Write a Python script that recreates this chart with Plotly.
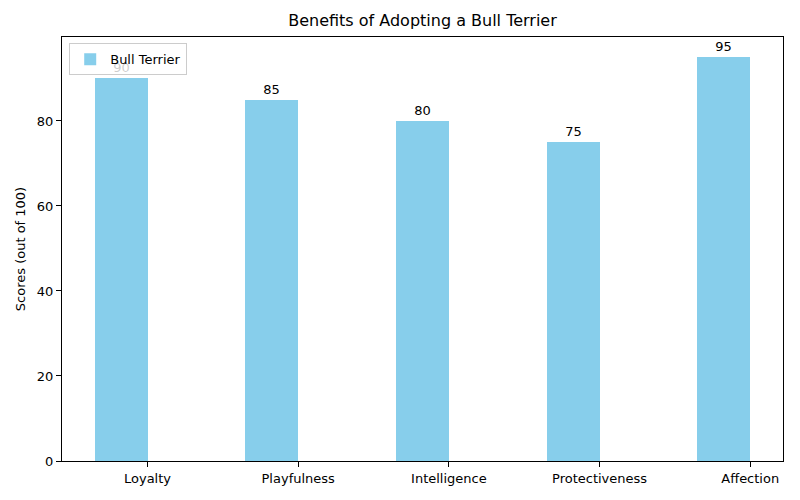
import plotly.graph_objects as go

categories = ["Loyalty", "Playfulness", "Intelligence", "Protectiveness", "Affection"]
scores = [90, 85, 80, 75, 95]
series_name = "Bull Terrier"

bar_width = 0.35
idx = list(range(len(categories)))
xpos = [i - bar_width / 2 for i in idx]

W, H = 792, 492  # page body has an 8px margin

fig = go.Figure()
fig.add_trace(go.Bar(
    x=xpos, y=scores, width=bar_width, name=series_name,
    marker=dict(color="skyblue", line=dict(width=0)),
    text=[str(v) for v in scores], textposition="outside", cliponaxis=False,
    textfont=dict(size=13, color="black", family="DejaVu Sans"),
    showlegend=True,
))

fig.update_layout(
    width=W, height=H,
    margin=dict(l=54, r=17, t=29, b=39, autoexpand=False),
    paper_bgcolor="white", plot_bgcolor="white",
    font=dict(family="DejaVu Sans", size=13, color="black"),
    title=dict(text="Benefits of Adopting a Bull Terrier", x=(54 + 775) / 2 / W,
               xanchor="center", y=1 - 12 / H, yanchor="middle",
               font=dict(size=16)),
    showlegend=True,
    legend=dict(x=0.01, y=0.985, xanchor="left", yanchor="top",
                bgcolor="rgba(255,255,255,0.8)", bordercolor="#cccccc", borderwidth=1,
                font=dict(size=13)),
    bargap=0,
)
fig.update_xaxes(range=[-0.5675, 4.2175], tickmode="array", tickvals=idx, ticktext=categories,
                 automargin=False, tickfont=dict(size=13),
                 showline=True, linecolor="black", linewidth=1, mirror=True,
                 ticks="outside", ticklen=5, tickcolor="black", showgrid=False, zeroline=False)
fig.update_yaxes(range=[0, 99.75], tickmode="array", tickvals=[0, 20, 40, 60, 80],
                 automargin=False, tickfont=dict(size=13),
                 title=dict(text="Scores (out of 100)", standoff=8, font=dict(size=13)),
                 showline=True, linecolor="black", linewidth=1, mirror=True,
                 ticks="outside", ticklen=5, tickcolor="black", showgrid=False, zeroline=False)

fig.write_html("out.html")
